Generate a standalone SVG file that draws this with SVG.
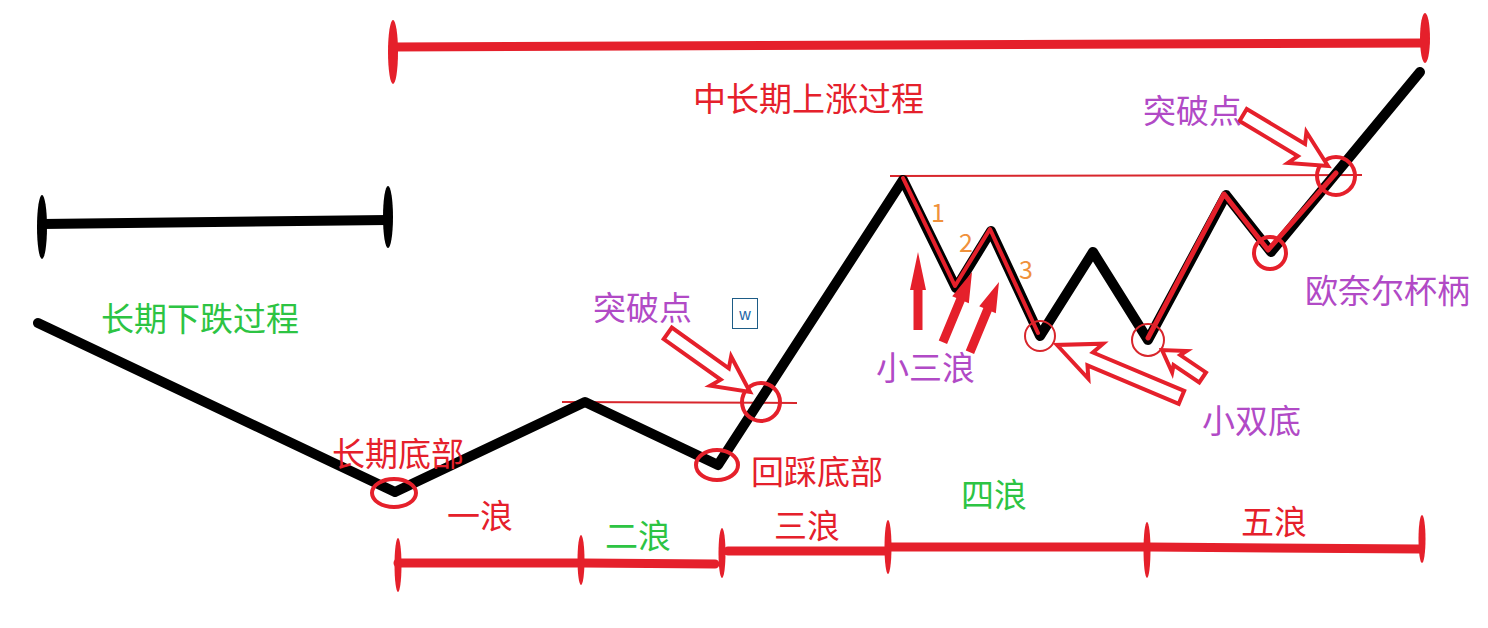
<svg xmlns="http://www.w3.org/2000/svg" width="1488" height="628" viewBox="0 0 1488 628">
<style>
.t{font-family:"Noto Sans CJK SC","Noto Sans",sans-serif;font-size:33px}
.red{fill:#e5202b}.grn{fill:#2dc443}.pur{fill:#b14ac6}.org{fill:#f0913b;font-size:25px}
.main{fill:none;stroke:#000;stroke-width:10;stroke-linejoin:round;stroke-linecap:round}
.ovl{fill:none;stroke:#e5202b;stroke-linejoin:round;stroke-linecap:round}
.hl{stroke:#d8262c;stroke-width:2}
.bar{stroke:#e5202b;stroke-width:9;stroke-linecap:round}
.tick{fill:#e5202b}
.circ{fill:none;stroke:#e5202b;stroke-width:4}
.circt{fill:none;stroke:#d8262c;stroke-width:2}
.harrow{fill:#fff;stroke:#e5202b;stroke-width:4;stroke-linejoin:miter}
.sarrow{fill:#e5202b}
</style>
<rect width="1488" height="628" fill="#fff"/>

<g id="top-range">
<line class="bar" x1="393" y1="47" x2="1425" y2="43"/>
<ellipse class="tick" cx="393" cy="52" rx="5" ry="32"/>
<ellipse class="tick" cx="1425" cy="38" rx="5" ry="25"/>
</g>

<g id="left-range">
<line x1="42" y1="224" x2="388" y2="220" stroke="#000" stroke-width="10"/>
<ellipse cx="42" cy="227" rx="5" ry="32" fill="#000"/>
<ellipse cx="388" cy="217" rx="5" ry="31" fill="#000"/>
</g>

<g id="wave-ranges">
<line class="bar" x1="398" y1="563" x2="577" y2="563"/>
<line class="bar" x1="583" y1="563" x2="715" y2="564"/>
<line class="bar" x1="728" y1="551" x2="886" y2="551"/>
<line class="bar" x1="890" y1="547" x2="1145" y2="547"/>
<line class="bar" x1="1149" y1="547" x2="1420" y2="549"/>
<ellipse class="tick" cx="398" cy="565" rx="3.5" ry="27"/>
<ellipse class="tick" cx="581" cy="560" rx="3.5" ry="25"/>
<ellipse class="tick" cx="722" cy="553" rx="3.5" ry="25"/>
<ellipse class="tick" cx="888" cy="547" rx="3.5" ry="27"/>
<ellipse class="tick" cx="1147" cy="550" rx="3.5" ry="28"/>
<ellipse class="tick" cx="1422" cy="539" rx="3.5" ry="24"/>
</g>

<g id="connectors">
<line class="hl" x1="562" y1="402" x2="797" y2="403"/>
<line class="hl" x1="890" y1="176" x2="1362" y2="175"/>
<polyline class="main" points="38,323 395,492 585,402 718,465 903,180 956,288 991,231 1040,336 1093,252 1148,340 1226,195 1271,252 1420,72"/>
<polyline class="ovl" stroke-width="4" points="903,178 955,286 990,229 1038,333"/>
<polyline class="ovl" stroke-width="5" points="1148,338 1224,194 1268,250 1336,173"/>
</g>

<g id="circles">
<ellipse class="circ" cx="394" cy="493" rx="22" ry="14"/>
<ellipse class="circ" cx="717" cy="465" rx="21" ry="15"/>
<circle class="circ" cx="761" cy="402" r="19"/>
<circle class="circt" cx="1040" cy="336" r="15"/>
<circle class="circt" cx="1148" cy="340" r="16"/>
<circle class="circ" cx="1270" cy="253" r="16"/>
<circle class="circ" cx="1336" cy="176" r="19"/>
</g>

<g id="hollow-arrows">
<path class="harrow" transform="translate(750,392) rotate(35.5)" d="M0,0 L-36,-18 L-31,-7 L-101,-7 L-101,7 L-31,7 L-36,18 Z"/>
<path class="harrow" transform="translate(1328,166) rotate(31)" d="M0,0 L-36,-18 L-31,-7 L-99,-7 L-99,7 L-31,7 L-36,18 Z"/>
<path class="harrow" transform="translate(1057,345) rotate(202.8)" d="M0,0 L-42,-19 L-36,-7 L-135,-7 L-135,7 L-36,7 L-42,19 Z"/>
<path class="harrow" transform="translate(1162,350) rotate(214)" d="M0,0 L-21,-13 L-18,-6 L-49,-6 L-49,6 L-18,6 L-21,13 Z"/>
</g>

<g id="solid-arrows">
<path class="sarrow" transform="translate(918,252) rotate(-90)" d="M0,0 L-38,-8 L-38,-4.5 L-78,-4.5 L-78,4.5 L-38,4.5 L-38,8 Z"/>
<path class="sarrow" transform="translate(972,272) rotate(-67.5)" d="M0,0 L-30,-9 L-30,-4.5 L-76,-4.5 L-76,4.5 L-30,4.5 L-30,9 Z"/>
<path class="sarrow" transform="translate(999,282) rotate(-67.5)" d="M0,0 L-30,-9 L-30,-4.5 L-76,-4.5 L-76,4.5 L-30,4.5 L-30,9 Z"/>
</g>

<g id="labels">
<text class="t red" x="693" y="111">中长期上涨过程</text>
<text class="t grn" x="101" y="331">长期下跌过程</text>
<text class="t red" x="332" y="466">长期底部</text>
<text class="t red" x="447" y="528">一浪</text>
<text class="t grn" x="605" y="548">二浪</text>
<text class="t red" x="774" y="538">三浪</text>
<text class="t grn" x="961" y="507">四浪</text>
<text class="t red" x="1241" y="534">五浪</text>
<text class="t red" x="751" y="484">回踩底部</text>
<text class="t pur" x="593" y="320">突破点</text>
<text class="t pur" x="1143" y="123">突破点</text>
<text class="t pur" x="876" y="380">小三浪</text>
<text class="t pur" x="1202" y="433">小双底</text>
<text class="t pur" x="1305" y="303">欧奈尔杯柄</text>
<text class="t org" x="938" y="222" text-anchor="middle">1</text>
<text class="t org" x="966" y="252" text-anchor="middle">2</text>
<text class="t org" x="1026" y="279" text-anchor="middle">3</text>
</g>

<g id="w-icon">
<rect x="732.5" y="298.5" width="25" height="30" fill="#fff" stroke="#1d5c86" stroke-width="1"/>
<text x="745" y="320" text-anchor="middle" style="font-family:'Liberation Sans',sans-serif;font-size:16px;fill:#2366a8">w</text>
</g>
</svg>
